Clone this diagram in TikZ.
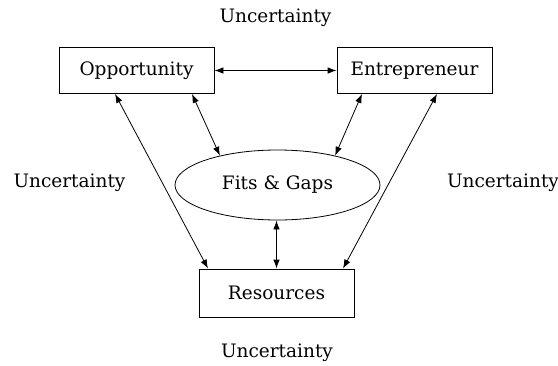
\documentclass[tikz,border=0pt]{standalone}
\usepackage{fontspec}
\setmainfont{DejaVu Serif}
\usetikzlibrary{arrows.meta,shapes.geometric}
\begin{document}
\begin{tikzpicture}[x=1pt,y=-1pt,
  every node/.style={font=\fontsize{18.5}{22}\selectfont},
  boxnode/.style={draw,line width=0.8pt,minimum width=155pt,minimum height=46pt,inner sep=0pt},
  ellnode/.style={draw,ellipse,line width=0.8pt,minimum width=205pt,minimum height=70pt,inner sep=0pt},
  lbl/.style={inner sep=0pt},
  conn/.style={line width=0.8pt,{Latex[length=9pt,width=6.5pt]}-{Latex[length=9pt,width=6.5pt]}}]
\useasboundingbox (0,0) rectangle (558,365);
\node[boxnode] (opp) at (136.5,70.5) {Opportunity};
\node[boxnode] (ent) at (414.5,70.5) {Entrepreneur};
\node[ellnode] (fg) at (277.5,185) {Fits \& Gaps};
\node[boxnode,minimum height=48pt] (res) at (276.5,293) {Resources};
\node[lbl] (u1) at (275.5,18) {Uncertainty};
\node[lbl] (u2) at (69.5,183) {Uncertainty};
\node[lbl] (u3) at (503,183) {Uncertainty};
\node[lbl] (u4) at (277,353) {Uncertainty};
\draw[conn] (opp.east) -- (ent.west);
\draw[conn] ([xshift=-21.5pt]opp.south) -- ([xshift=-68.5pt]res.north);
\draw[conn] ([xshift=55.5pt]opp.south) -- (fg.153);
\draw[conn] ([xshift=-52.5pt]ent.south) -- (fg.27);
\draw[conn] ([xshift=22.5pt]ent.south) -- ([xshift=66.5pt]res.north);
\draw[conn] (fg.south -| res.north) -- (res.north);
\end{tikzpicture}
\end{document}
